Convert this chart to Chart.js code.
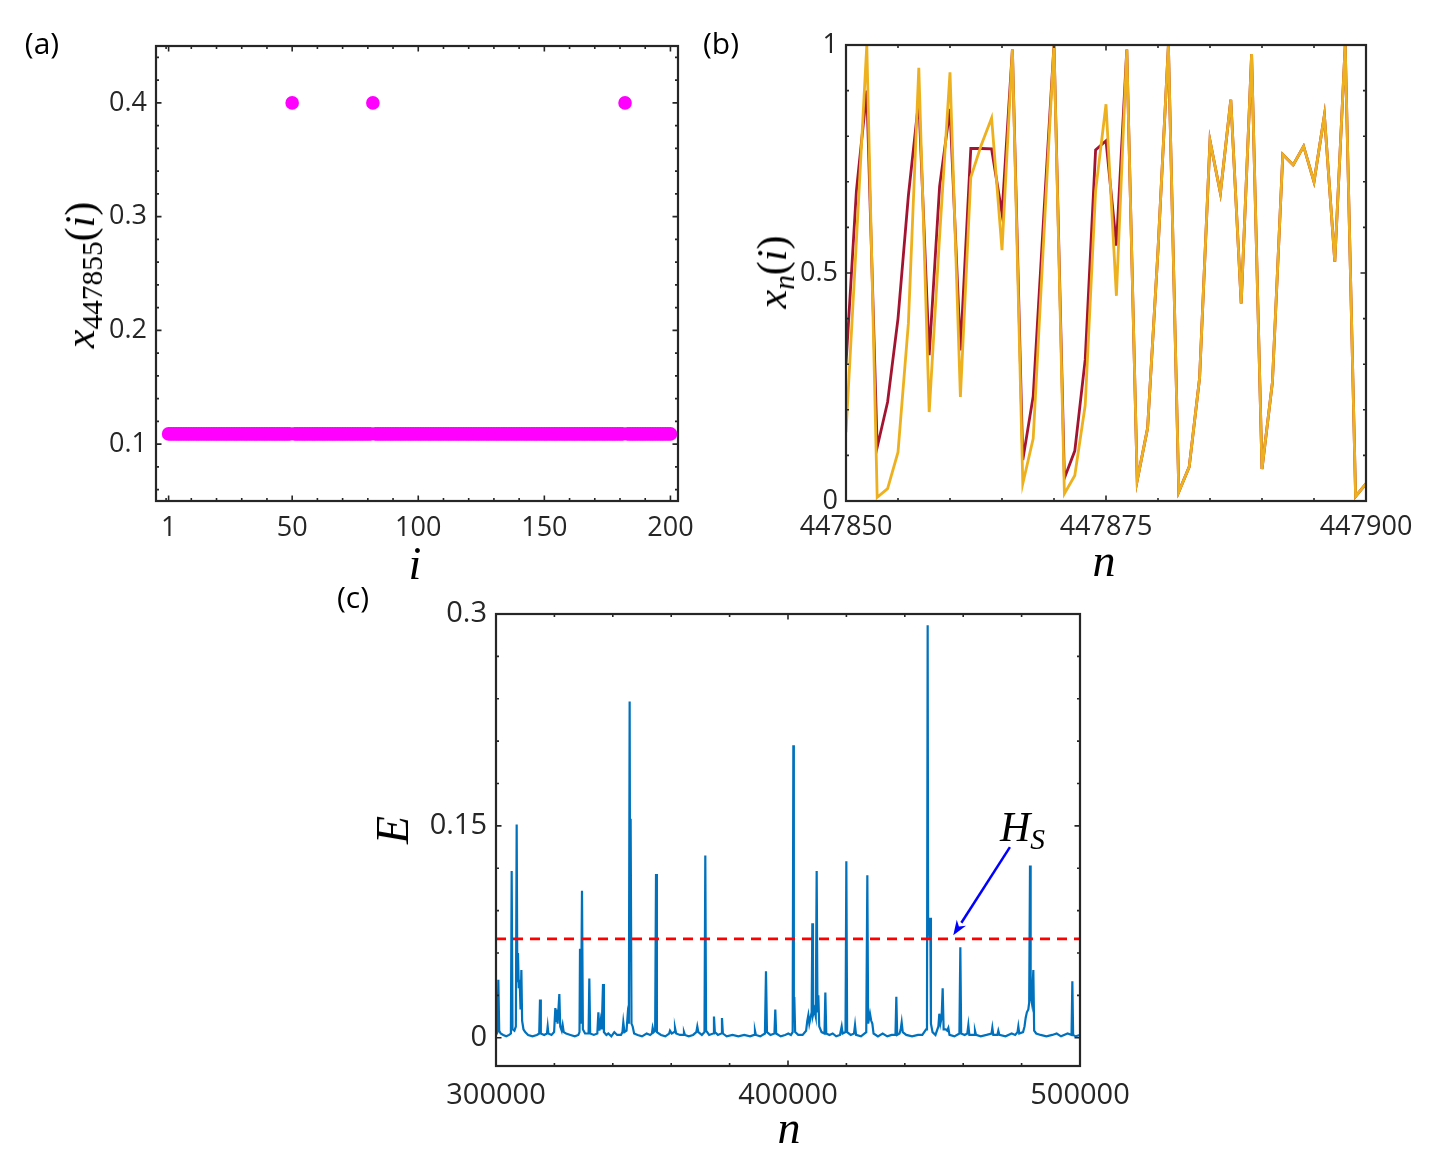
<!DOCTYPE html>
<html>
<head>
<meta charset="utf-8">
<script src="https://cdn.jsdelivr.net/npm/chart.js@4.4.1/dist/chart.umd.min.js"></script>
<style>
html,body{margin:0;padding:0;background:#fff;}
body{width:1431px;height:1160px;position:relative;overflow:hidden;}
.panel{position:absolute;}
.lbl{position:absolute;font-family:'Open Sans',sans-serif;font-size:30px;color:#000;line-height:1;white-space:nowrap;}
.math{position:absolute;font-family:'Liberation Serif',serif;color:#000;line-height:1;white-space:nowrap;}
.math i{font-style:italic;}
.rot{transform:translate(-50%,-50%) rotate(-90deg);}
.ctr{transform:translate(-50%,-50%);}
.math sub{font-size:0.7em;vertical-align:baseline;position:relative;top:0.28em;}
</style>
</head>
<body>
<div class="panel" style="left:0;top:0;width:740px;height:560px"><canvas id="ca"></canvas></div>
<div class="panel" style="left:720px;top:0;width:711px;height:560px"><canvas id="cb"></canvas></div>
<div class="panel" style="left:340px;top:570px;width:840px;height:590px"><canvas id="cc"></canvas></div>

<div class="lbl ctr" style="left:42px;top:43px">(a)</div>
<div class="lbl ctr" style="left:721px;top:43px">(b)</div>
<div class="lbl ctr" style="left:353px;top:597px">(c)</div>

<div class="math rot" style="left:80px;top:275px;font-size:42px"><i>x</i><sub>447855</sub>(<i>i</i>)</div>
<div class="math ctr" style="left:415px;top:564px;font-size:46px"><i>i</i></div>
<div class="math rot" style="left:772px;top:272px;font-size:42px"><i>x</i><sub><i>n</i></sub>(<i>i</i>)</div>
<div class="math ctr" style="left:1104px;top:561px;font-size:46px"><i>n</i></div>
<div class="math rot" style="left:393px;top:830px;font-size:46px"><i>E</i></div>
<div class="math ctr" style="left:789px;top:1128px;font-size:46px"><i>n</i></div>
<div class="math" style="left:1000px;top:806px;font-size:42px"><i>H</i><sub><i>S</i></sub></div>

<script>
// ---------------- DATA ----------------
// (a) state of each node i = 1..200 at n = 447855
const nodeValues = [
  0.109,0.109,0.109,0.109,0.109,0.109,0.109,0.109,0.109,0.109,
  0.109,0.109,0.109,0.109,0.109,0.109,0.109,0.109,0.109,0.109,
  0.109,0.109,0.109,0.109,0.109,0.109,0.109,0.109,0.109,0.109,
  0.109,0.109,0.109,0.109,0.109,0.109,0.109,0.109,0.109,0.109,
  0.109,0.109,0.109,0.109,0.109,0.109,0.109,0.109,0.109,0.4,
  0.109,0.109,0.109,0.109,0.109,0.109,0.109,0.109,0.109,0.109,
  0.109,0.109,0.109,0.109,0.109,0.109,0.109,0.109,0.109,0.109,
  0.109,0.109,0.109,0.109,0.109,0.109,0.109,0.109,0.109,0.109,
  0.109,0.4,0.109,0.109,0.109,0.109,0.109,0.109,0.109,0.109,
  0.109,0.109,0.109,0.109,0.109,0.109,0.109,0.109,0.109,0.109,
  0.109,0.109,0.109,0.109,0.109,0.109,0.109,0.109,0.109,0.109,
  0.109,0.109,0.109,0.109,0.109,0.109,0.109,0.109,0.109,0.109,
  0.109,0.109,0.109,0.109,0.109,0.109,0.109,0.109,0.109,0.109,
  0.109,0.109,0.109,0.109,0.109,0.109,0.109,0.109,0.109,0.109,
  0.109,0.109,0.109,0.109,0.109,0.109,0.109,0.109,0.109,0.109,
  0.109,0.109,0.109,0.109,0.109,0.109,0.109,0.109,0.109,0.109,
  0.109,0.109,0.109,0.109,0.109,0.109,0.109,0.109,0.109,0.109,
  0.109,0.109,0.109,0.109,0.109,0.109,0.109,0.109,0.109,0.109,
  0.109,0.4,0.109,0.109,0.109,0.109,0.109,0.109,0.109,0.109,
  0.109,0.109,0.109,0.109,0.109,0.109,0.109,0.109,0.109,0.109
];
const nodeTicksX = [1, 50, 100, 150, 200];
const nodeTicksY = [0.1, 0.2, 0.3, 0.4];

// (b) time series of two nodes, n = 447850..447900
const stepStart = 447850;
const traceRed = [
  0.30,0.68,0.90,0.118,0.217,0.40,0.67,0.88,0.32,0.69,
  0.86,0.33,0.773,0.773,0.772,0.63,0.99,0.09,0.23,0.62,
  1.0,0.05,0.11,0.31,0.77,0.79,0.56,0.99,0.045,0.16,
  0.55,1.0,0.02,0.075,0.27,0.79,0.675,0.88,0.433,0.98,
  0.07,0.26,0.76,0.737,0.778,0.70,0.846,0.525,1.0,0.01,
  0.038
];
const traceYellow = [
  0.151,0.57,1.0,0.008,0.027,0.107,0.39,0.95,0.195,0.58,
  0.94,0.228,0.71,0.78,0.84,0.55,0.99,0.038,0.137,0.57,
  1.0,0.016,0.056,0.21,0.68,0.87,0.45,0.99,0.045,0.16,
  0.55,1.0,0.02,0.075,0.27,0.79,0.675,0.88,0.433,0.98,
  0.07,0.26,0.76,0.737,0.778,0.70,0.846,0.525,1.0,0.01,
  0.038
];
const stepTicksX = [447850, 447875, 447900];
const stepTicksY = [0, 0.5, 1];

// (c) energy E(n), pairs [n, E]
const energyTrace = [
  [300000,0.002],[300500,0.004],[300800,0.041],[301100,0.005],[301600,0.003],[302500,0.002],[303500,0.001],
  [304500,0.002],[305100,0.003],[305370,0.118],[305650,0.006],[306300,0.005],[306800,0.008],[307080,0.151],
  [307300,0.040],[307530,0.060],[307800,0.035],[308100,0.041],[308400,0.020],[308690,0.048],[308950,0.012],
  [309400,0.006],[310000,0.004],[311000,0.002],[312500,0.001],[314000,0.002],[314800,0.003],[315070,0.027],
  [315350,0.003],[316500,0.002],[317450,0.003],[317700,0.008],[317950,0.003],[319000,0.002],[319900,0.004],
  [320320,0.021],[320600,0.012],[320780,0.020],[321100,0.010],[321690,0.031],[322000,0.008],[322500,0.005],
  [322830,0.009],[323200,0.004],[324000,0.003],[325500,0.002],[327000,0.001],[328200,0.002],[328600,0.004],
  [328770,0.063],[329100,0.010],[329450,0.104],[329750,0.006],[330500,0.003],[331700,0.003],[331960,0.042],
  [332250,0.003],[333500,0.002],[334700,0.003],[335060,0.018],[335400,0.005],[335850,0.012],[336200,0.006],
  [336650,0.038],[336950,0.004],[337800,0.002],[338470,0.003],[339500,0.001],[340520,0.004],[341500,0.002],
  [342800,0.002],[343300,0.004],[343600,0.011],[344000,0.004],[344700,0.005],[345090,0.016],[345500,0.010],
  [345770,0.238],[345950,0.060],[346110,0.155],[346400,0.010],[346800,0.008],[347300,0.003],[348500,0.002],
  [350000,0.001],[351600,0.003],[352800,0.002],[353400,0.003],[353660,0.007],[354000,0.004],[354500,0.005],
  [354800,0.116],[355100,0.004],[356500,0.002],[358000,0.001],[359300,0.003],[359590,0.005],[360200,0.003],
  [361000,0.004],[361300,0.007],[361700,0.003],[363000,0.002],[364100,0.002],[364380,0.004],[364700,0.002],
  [366000,0.001],[367500,0.002],[368600,0.004],[368940,0.008],[369300,0.004],[370500,0.002],[371400,0.004],
  [371680,0.129],[371950,0.005],[373000,0.002],[374350,0.003],[374650,0.015],[374950,0.004],[376000,0.002],
  [377100,0.003],[377390,0.014],[377700,0.003],[379000,0.001],[381000,0.002],[383000,0.001],[385000,0.002],
  [387000,0.001],[388400,0.002],[388690,0.005],[389000,0.002],[390500,0.001],[392100,0.003],[392460,0.047],
  [392800,0.004],[394000,0.002],[395350,0.003],[395650,0.020],[395950,0.003],[397500,0.001],[399000,0.002],
  [400100,0.003],[401000,0.002],[401600,0.004],[401830,0.207],[402000,0.028],[402170,0.028],[402450,0.004],
  [403500,0.002],[405000,0.002],[406200,0.005],[406600,0.012],[406960,0.016],[407300,0.010],[407700,0.014],
  [408100,0.018],[408330,0.081],[408550,0.016],[409000,0.020],[409500,0.015],[409820,0.118],[410100,0.018],
  [410390,0.030],[410700,0.008],[411500,0.004],[412500,0.003],[412790,0.032],[413100,0.003],[414200,0.002],
  [415300,0.003],[416500,0.001],[417800,0.002],[418380,0.008],[418700,0.003],[419700,0.004],[419980,0.125],
  [420250,0.004],[421500,0.002],[422600,0.003],[422950,0.009],[423300,0.002],[425000,0.001],[426800,0.004],
  [427170,0.115],[427450,0.010],[428080,0.017],[428500,0.012],[428880,0.010],[429300,0.003],[430800,0.001],
  [432420,0.003],[434000,0.001],[435500,0.002],[436800,0.002],[437100,0.029],[437400,0.002],[438200,0.003],
  [438600,0.006],[438930,0.011],[439300,0.004],[440500,0.002],[442500,0.001],[444500,0.002],[446000,0.002],
  [447300,0.006],[447600,0.020],[447830,0.292],[447980,0.085],[448200,0.085],[448500,0.070],[448740,0.085],
  [448950,0.010],[449500,0.004],[450500,0.002],[451500,0.008],[451820,0.017],[452200,0.010],[452600,0.014],
  [452970,0.035],[453300,0.006],[454000,0.006],[454500,0.005],[454910,0.007],[455300,0.002],[457000,0.001],
  [458700,0.003],[459020,0.064],[459300,0.003],[460500,0.002],[461400,0.003],[461760,0.009],[462100,0.002],
  [463700,0.002],[464040,0.005],[464400,0.002],[466000,0.001],[468000,0.002],[469700,0.003],[469980,0.007],
  [470300,0.002],[471700,0.002],[472030,0.005],[472400,0.002],[474500,0.001],[476600,0.003],[477800,0.002],
  [478600,0.004],[478880,0.008],[479200,0.003],[480500,0.004],[481000,0.008],[481390,0.014],[481800,0.018],
  [482300,0.020],[482600,0.025],[482880,0.122],[483100,0.030],[483500,0.025],[484020,0.048],[484300,0.005],
  [485000,0.003],[486500,0.002],[488500,0.001],[490500,0.002],[492010,0.003],[493500,0.001],[495780,0.003],
  [497100,0.002],[497380,0.040],[497650,0.002],[498500,0.001],[500000,0.002]
];
const thresholdHS = 0.07;
const energyTicksX = [300000, 400000, 500000];
const energyTicksY = [0, 0.15, 0.3];
const arrowFrom = [476000, 0.135];
const arrowTo = [456600, 0.0725];

// ---------------- HELPERS ----------------
Chart.defaults.font.family = "'Open Sans', sans-serif";
Chart.defaults.color = '#262626';
Chart.defaults.animation = false;

function steps(a, b, s) {
  const out = [];
  for (let v = a; v <= b + s * 1e-6; v += s) out.push(Math.round(v * 1e6) / 1e6);
  return out;
}

function makeBox(id, cfg) {
  return {
    id: id,
    afterDatasetsDraw(chart) {
      const { ctx, chartArea: a } = chart;
      const sx = chart.scales.x, sy = chart.scales.y;
      ctx.save();
      ctx.strokeStyle = '#262626';
      ctx.lineWidth = 1.6;
      ctx.beginPath();
      const tx = (vals, len) => vals.forEach(v => {
        const p = sx.getPixelForValue(v);
        ctx.moveTo(p, a.bottom); ctx.lineTo(p, a.bottom - len);
        ctx.moveTo(p, a.top); ctx.lineTo(p, a.top + len);
      });
      const ty = (vals, len) => vals.forEach(v => {
        const p = sy.getPixelForValue(v);
        ctx.moveTo(a.left, p); ctx.lineTo(a.left + len, p);
        ctx.moveTo(a.right, p); ctx.lineTo(a.right - len, p);
      });
      tx(cfg.xMinor, 3); tx(cfg.xMajor, 5.5);
      ty(cfg.yMinor, 3); ty(cfg.yMajor, 5.5);
      ctx.stroke();
      ctx.lineWidth = 2.2;
      ctx.strokeRect(a.left, a.top, a.right - a.left, a.bottom - a.top);
      ctx.restore();
    }
  };
}

function axis(min, max, tickVals, pad, fontSize, isY, size) {
  return {
    type: 'linear', min: min, max: max,
    grid: { display: false, drawTicks: false },
    border: { display: false },
    ticks: {
      autoSkip: false, maxRotation: 0, minRotation: 0, padding: pad,
      color: '#262626', font: { size: fontSize },
      callback: (v) => String(v)
    },
    afterBuildTicks: (s) => { s.ticks = tickVals.map(v => ({ value: v })); },
    afterFit: (s) => { if (isY) s.width = size; else s.height = size; }
  };
}

function baseOptions(pad, x, y) {
  return {
    responsive: true, maintainAspectRatio: false, animation: false,
    layout: { autoPadding: false, padding: pad },
    plugins: { legend: { display: false }, tooltip: { enabled: false } },
    events: [],
    scales: { x: x, y: y }
  };
}

// ---------------- (a) ----------------
new Chart(document.getElementById('ca'), {
  type: 'scatter',
  data: {
    datasets: [{
      data: nodeValues.map((v, k) => ({ x: k + 1, y: v })),
      pointRadius: 6.8, pointBackgroundColor: '#FF00FF', pointBorderWidth: 0,
      borderColor: '#FF00FF', showLine: false
    }]
  },
  options: baseOptions({ left: 0, top: 46, right: 62, bottom: 0 },
    axis(-4, 203, nodeTicksX, 11, 27, false, 59),
    axis(0.05, 0.45, nodeTicksY, 9, 27, true, 156)),
  plugins: [makeBox('boxA', { xMajor: nodeTicksX, xMinor: steps(0, 200, 10), yMajor: nodeTicksY, yMinor: steps(0.06, 0.44, 0.02) })]
});

// ---------------- (b) ----------------
new Chart(document.getElementById('cb'), {
  type: 'line',
  data: {
    datasets: [
      { data: traceYellow.map((v, k) => ({ x: stepStart + k, y: v })), borderColor: '#EDB120', borderWidth: 2.8, pointRadius: 0, tension: 0, clip: 0, borderJoinStyle: 'miter' },
      { data: traceRed.map((v, k) => ({ x: stepStart + k, y: v })), borderColor: '#A2142F', borderWidth: 2.8, pointRadius: 0, tension: 0, clip: 0, borderJoinStyle: 'miter' }
    ]
  },
  options: baseOptions({ left: 0, top: 45, right: 65, bottom: 0 },
    axis(447850, 447900, stepTicksX, 10, 27, false, 59),
    axis(0, 1, stepTicksY, 8, 27, true, 126)),
  plugins: [makeBox('boxB', { xMajor: stepTicksX, xMinor: steps(447850, 447900, 5), yMajor: stepTicksY, yMinor: steps(0, 1, 0.1) })]
});

// ---------------- (c) ----------------
const arrowPlugin = {
  id: 'hsArrow',
  afterDatasetsDraw(chart) {
    const { ctx } = chart;
    const sx = chart.scales.x, sy = chart.scales.y;
    const x0 = sx.getPixelForValue(arrowFrom[0]), y0 = sy.getPixelForValue(arrowFrom[1]);
    const x1 = sx.getPixelForValue(arrowTo[0]), y1 = sy.getPixelForValue(arrowTo[1]);
    const ang = Math.atan2(y1 - y0, x1 - x0);
    const hl = 15, hw = 5.5;
    const bx = x1 - hl * Math.cos(ang), by = y1 - hl * Math.sin(ang);
    ctx.save();
    ctx.strokeStyle = '#0000FF'; ctx.fillStyle = '#0000FF'; ctx.lineWidth = 2.5;
    ctx.beginPath(); ctx.moveTo(x0, y0); ctx.lineTo(bx, by); ctx.stroke();
    ctx.beginPath();
    ctx.moveTo(x1, y1);
    ctx.lineTo(bx + hw * Math.sin(ang), by - hw * Math.cos(ang));
    ctx.lineTo(x1 - 0.7 * hl * Math.cos(ang), y1 - 0.7 * hl * Math.sin(ang));
    ctx.lineTo(bx - hw * Math.sin(ang), by + hw * Math.cos(ang));
    ctx.closePath(); ctx.fill();
    ctx.restore();
  }
};

new Chart(document.getElementById('cc'), {
  type: 'line',
  data: {
    datasets: [
      { data: [{ x: 300000, y: thresholdHS }, { x: 500000, y: thresholdHS }], borderColor: '#FF0000', borderWidth: 2.6, borderDash: [10, 7], pointRadius: 0, tension: 0, clip: 0 },
      { data: energyTrace.map(p => ({ x: p[0], y: p[1] })), borderColor: '#0072BD', borderWidth: 2.2, pointRadius: 0, tension: 0, clip: 0, borderJoinStyle: 'miter' }
    ]
  },
  options: baseOptions({ left: 0, top: 44, right: 100, bottom: 0 },
    axis(300000, 500000, energyTicksX, 12, 29, false, 94),
    axis(-0.02, 0.3, energyTicksY, 9, 29, true, 156)),
  plugins: [arrowPlugin, makeBox('boxC', { xMajor: energyTicksX, xMinor: steps(300000, 500000, 20000), yMajor: energyTicksY, yMinor: steps(0, 0.3, 0.03) })]
});
</script>
</body>
</html>
